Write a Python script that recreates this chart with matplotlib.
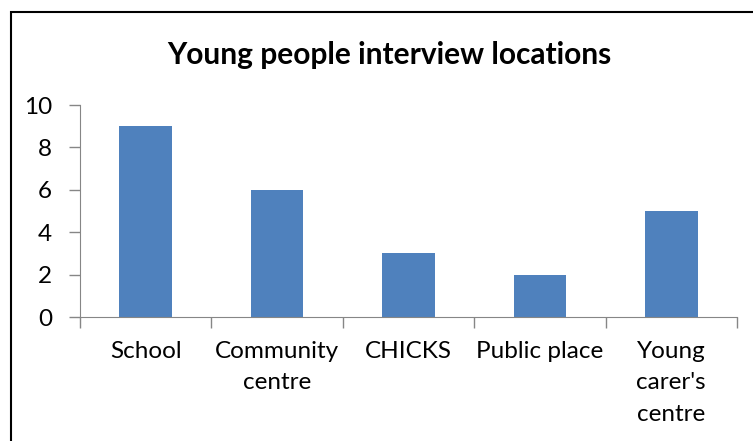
import matplotlib.pyplot as plt
from matplotlib.patches import Rectangle

categories = ["School", "Community\ncentre", "CHICKS", "Public place", "Young\ncarer's\ncentre"]
counts = [9, 6, 3, 2, 5]
yticks = [0, 2, 4, 6, 8, 10]

plt.rcParams['font.family'] = ['Lato', 'DejaVu Sans']

fig = plt.figure(figsize=(7.53, 4.41), dpi=100)
ax = fig.add_axes([80 / 753, 1 - 317 / 441, 657 / 753, 212 / 441])

x = list(range(len(categories)))
ax.bar(x, counts, width=0.4, color='#4F81BD')
ax.set_xlim(-0.5, len(categories) - 0.5)
ax.set_ylim(0, 10)
ax.set_yticks(yticks)
ax.set_yticklabels([str(v) for v in yticks], fontsize=17.5)

ax.set_xticks([i - 0.5 for i in range(len(categories) + 1)])
ax.set_xticklabels([])
ax.set_xticks(x, minor=True)
ax.set_xticklabels(categories, minor=True, fontsize=17.5, linespacing=1.64, va='top')
ax.tick_params(axis='x', which='minor', length=0, pad=17)
ax.tick_params(axis='x', which='major', length=8, color='#868686', width=1, direction='out')
ax.tick_params(axis='y', length=8, color='#868686', width=1, direction='out', pad=12)

for side in ['top', 'right']:
    ax.spines[side].set_visible(False)
for side in ['left', 'bottom']:
    ax.spines[side].set_color('#868686')

fig.text(389 / 753, 1 - 55 / 441, "Young people interview locations",
         ha='center', va='center', fontsize=21.5, fontweight='bold')

# outer chart border (only top and left edges visible in the crop)
fig.patches.append(Rectangle((11 / 753, -0.1), 1.2, 1 - 12 / 441 + 0.1, transform=fig.transFigure,
                             fill=False, edgecolor='black', linewidth=1.5))

fig.savefig("out.png", dpi=100)
